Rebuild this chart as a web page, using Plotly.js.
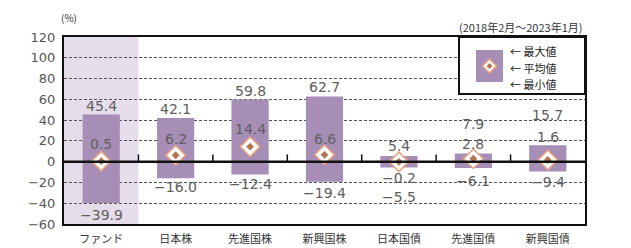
<!DOCTYPE html>
<html><head><meta charset="utf-8">
<script src="https://cdn.plot.ly/plotly-3.0.1.min.js"></script>
<style>html,body{margin:0;padding:0;background:#fff}#c{width:631px;height:248px}</style>
</head><body><div id="c"></div>
<script>
const categories = ['ファンド','日本株','先進国株','新興国株','日本国債','先進国債','新興国債'];
const maxVals = [45.4, 42.1, 59.8, 62.7, 5.4, 7.9, 15.7];
const avgVals = [0.5, 6.2, 14.4, 6.6, -0.2, 2.8, 1.6];
const minVals = [-39.9, -16.0, -12.4, -19.4, -5.5, -6.1, -9.4];
const yTicks = [-60,-40,-20,0,20,40,60,80,100,120];
const legendLabels = ['← 最大値','← 平均値','← 最小値'];
const periodLabel = '(2018年2月～2023年1月)';
const unitLabel = '(%)';

// label pixel offsets (style only)
const maxShift = [9, 9, 9, 9.5, 10, 29, 30];
const avgShift = [17, 16, 17.5, 16, -16, 15, 23];
const minShift = [-12, -9, -9.5, -11, -30, -13, -10.5];

const fmt = v => v.toFixed(1).replace('-', '−');
const lblFont = {family:'DejaVu Sans, sans-serif', size:14, color:'#5e5e5e'};

const T = 37, B = 224, L = 64, R = 585;
const px = v => (v-L)/(R-L), py = v => 1-(v-T)/(B-T);

const annotations = [];
categories.forEach((c,i)=>{
  annotations.push({x:c, y:maxVals[i], xref:'x', yref:'y', text:fmt(maxVals[i]), showarrow:false, yanchor:'middle', yshift:maxShift[i], font:lblFont});
  annotations.push({x:c, y:avgVals[i], xref:'x', yref:'y', text:fmt(avgVals[i]), showarrow:false, yanchor:'middle', yshift:avgShift[i], font:lblFont});
  annotations.push({x:c, y:minVals[i], xref:'x', yref:'y', text:fmt(minVals[i]), showarrow:false, yanchor:'middle', yshift:minShift[i], font:lblFont});
});
annotations.push({xref:'paper', yref:'paper', x:-0.01, y:1.0, yshift:20, xanchor:'left', yanchor:'middle', text:unitLabel, showarrow:false, font:{family:'Noto Sans CJK JP', size:10, color:'#333'}});
annotations.push({xref:'paper', yref:'paper', x:1.0, y:1.0, yshift:10, xanchor:'right', yanchor:'middle', text:periodLabel, showarrow:false, font:{family:'Noto Sans CJK JP', size:11, color:'#333'}});
legendLabels.forEach((t,k)=>{
  annotations.push({xref:'paper', yref:'paper', x:px(508), y:py(51 + k*16.5), xanchor:'left', yanchor:'middle', text:t, showarrow:false, font:{family:'Noto Sans CJK JP', size:11, color:'#222'}});
});

const shapes = [
  {type:'rect', xref:'x', yref:'paper', x0:-0.5, x1:0.5, y0:0, y1:1, fillcolor:'#e6ddeb', line:{width:0}, layer:'below'},
  {type:'line', xref:'paper', yref:'y', x0:0, x1:1, y0:0, y1:0, line:{color:'#111', width:2.5}, layer:'above'},
];
for (let k=0;k<categories.length-1;k++){
  shapes.push({type:'line', xref:'x', yref:'y', x0:k+0.5, x1:k+0.5, y0:0, y1:7, line:{color:'#111', width:1.5}});
}
// legend box
shapes.push({type:'rect', xref:'paper', yref:'paper', x0:px(459), x1:1, y0:py(94), y1:1, fillcolor:'#fff', line:{color:'#111', width:2}, layer:'above'});
shapes.push({type:'rect', xref:'paper', yref:'paper', x0:px(476), x1:px(503), y0:py(82), y1:py(50), fillcolor:'#a68eb6', line:{width:0}, layer:'above'});
const diamond = (cx, cy, r) => `M ${px(cx-r)},${py(cy)} L ${px(cx)},${py(cy-r)} L ${px(cx+r)},${py(cy)} L ${px(cx)},${py(cy+r)} Z`;
shapes.push({type:'path', xref:'paper', yref:'paper', path:diamond(489.5, 66, 7), fillcolor:'#fff', line:{color:'#f0a37c', width:1.5}, layer:'above'});
shapes.push({type:'path', xref:'paper', yref:'paper', path:diamond(489.5, 66, 3), fillcolor:'#b57552', line:{width:0}, layer:'above'});

const traces = [
  {type:'bar', x:categories, y:maxVals.map((v,i)=>v-minVals[i]), base:minVals, width:0.5, marker:{color:'#a68eb6'}, hoverinfo:'skip'},
  {type:'scatter', mode:'markers', x:categories, y:avgVals, marker:{symbol:'diamond', size:15, color:'#fff', line:{color:'#f0a37c', width:1.5}}, hoverinfo:'skip'},
  {type:'scatter', mode:'markers', x:categories, y:avgVals, marker:{symbol:'diamond', size:6, color:'#b57552'}, hoverinfo:'skip'},
];

const layout = {
  width:631, height:248,
  margin:{l:L, r:631-R, t:T, b:248-B},
  paper_bgcolor:'#fff', plot_bgcolor:'rgba(0,0,0,0)',
  showlegend:false,
  xaxis:{type:'category', range:[-0.5,6.5], showgrid:false, zeroline:false, showline:true, mirror:true, linecolor:'#111', linewidth:2, ticks:'', ticklabelstandoff:4, tickfont:{family:'Noto Sans CJK JP', size:11, color:'#333'}, fixedrange:true},
  yaxis:{range:[-60,120], tickvals:yTicks, showgrid:true, gridcolor:'#555', gridwidth:1, griddash:'3px,2px', zeroline:false, showline:true, mirror:true, linecolor:'#111', linewidth:2, ticks:'', ticklabelstandoff:4, tickfont:{family:'DejaVu Sans', size:13, color:'#555'}, fixedrange:true},
  shapes:shapes,
  annotations:annotations
};
Plotly.newPlot('c', traces, layout, {staticPlot:true});
</script>
</body></html>
